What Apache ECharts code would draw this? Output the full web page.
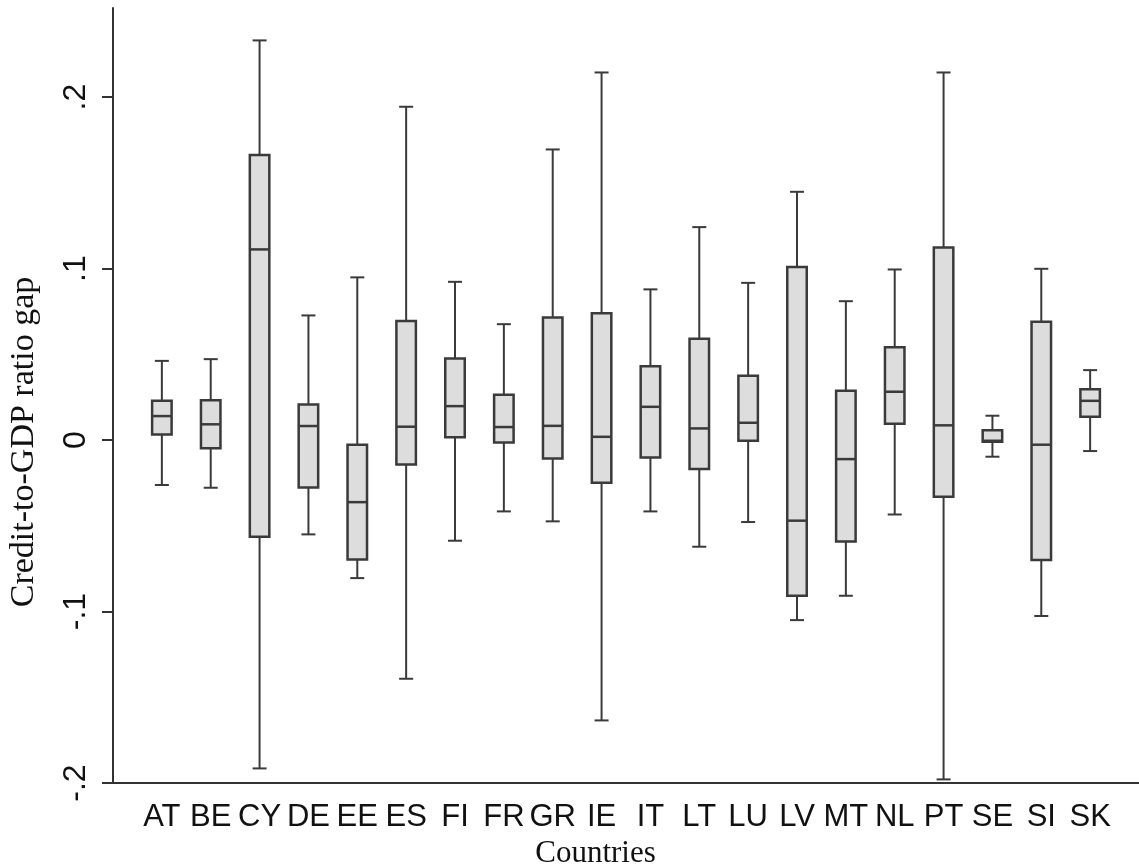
<!DOCTYPE html>
<html>
<head>
<meta charset="utf-8">
<script src="https://cdn.jsdelivr.net/npm/echarts@6/dist/echarts.min.js"></script>
<style>
html,body{margin:0;padding:0;background:#fff;}
#chart{width:1139px;height:865px;}
</style>
</head>
<body>
<div id="chart"></div>
<script>
// ---- data ----
const countries = ['AT','BE','CY','DE','EE','ES','FI','FR','GR','IE','IT','LT','LU','LV','MT','NL','PT','SE','SI','SK'];
const whiskerLow  = [-0.0262,-0.0278,-0.1915,-0.0550,-0.0805,-0.1392,-0.0587,-0.0416,-0.0474,-0.1635,-0.0416,-0.0622,-0.0478,-0.1050,-0.0908,-0.0434,-0.1979,-0.0097,-0.1026,-0.0064];
const quart1      = [ 0.0033,-0.0048,-0.0564,-0.0276,-0.0696,-0.0142, 0.0016,-0.0014,-0.0107,-0.0249,-0.0101,-0.0169,-0.0004,-0.0908,-0.0591, 0.0095,-0.0330,-0.0010,-0.0700, 0.0136];
const medians     = [ 0.0140, 0.0092, 0.1112, 0.0082,-0.0362, 0.0078, 0.0198, 0.0076, 0.0083, 0.0019, 0.0194, 0.0068, 0.0101,-0.0470,-0.0111, 0.0282, 0.0086,-0.0004,-0.0027, 0.0229];
const quart3      = [ 0.0229, 0.0233, 0.1662, 0.0208,-0.0027, 0.0694, 0.0476, 0.0264, 0.0715, 0.0739, 0.0431, 0.0591, 0.0375, 0.1009, 0.0288, 0.0542, 0.1123, 0.0058, 0.0690, 0.0296];
const whiskerHigh = [ 0.0462, 0.0472, 0.2331, 0.0727, 0.0949, 0.1944, 0.0923, 0.0676, 0.1695, 0.2144, 0.0879, 0.1242, 0.0917, 0.1448, 0.0810, 0.0995, 0.2144, 0.0142, 0.0999, 0.0408];
const yTickValues = [-0.2, -0.1, 0, 0.1, 0.2];
const yTickLabels = ['-.2', '-.1', '0', '.1', '.2'];
const xTitle = 'Countries';
const yTitle = 'Credit-to-GDP ratio gap';

// axis categories padded with an empty slot at each end (outer gap as in the reference)
const axisCats = [''].concat(countries, ['']);
const seriesData = countries.map((c, i) => [i + 1, whiskerLow[i], quart1[i], medians[i], quart3[i], whiskerHigh[i]]);

const DARK = '#3a3a3a';
const FILL = '#dddddd';

function renderBox(params, api) {
  const x = api.value(0);
  const lo = api.coord([x, api.value(1)]);
  const b1 = api.coord([x, api.value(2)]);
  const md = api.coord([x, api.value(3)]);
  const b3 = api.coord([x, api.value(4)]);
  const hi = api.coord([x, api.value(5)]);
  const cx = lo[0];
  const bw = 19.5, cw = 14;
  const ls = { stroke: DARK, lineWidth: 2, fill: null };
  return {
    type: 'group',
    children: [
      { type: 'line', shape: { x1: cx, y1: hi[1], x2: cx, y2: b3[1] }, style: ls },
      { type: 'line', shape: { x1: cx, y1: b1[1], x2: cx, y2: lo[1] }, style: ls },
      { type: 'line', shape: { x1: cx - cw / 2, y1: hi[1], x2: cx + cw / 2, y2: hi[1] }, style: ls },
      { type: 'line', shape: { x1: cx - cw / 2, y1: lo[1], x2: cx + cw / 2, y2: lo[1] }, style: ls },
      { type: 'rect', shape: { x: cx - bw / 2, y: b3[1], width: bw, height: b1[1] - b3[1] },
        style: { fill: FILL, stroke: DARK, lineWidth: 2.5 } },
      { type: 'line', shape: { x1: cx - bw / 2, y1: md[1], x2: cx + bw / 2, y2: md[1] },
        style: { stroke: DARK, lineWidth: 2.5, fill: null } }
    ]
  };
}

const chart = echarts.init(document.getElementById('chart'), null, { renderer: 'canvas' });
chart.setOption({
  animation: false,
  backgroundColor: '#ffffff',
  grid: { left: 113, right: 0, top: 8, bottom: 82, containLabel: false, outerBoundsMode: 'none' },
  xAxis: {
    type: 'category',
    data: axisCats,
    boundaryGap: false,
    axisLine: { show: true, onZero: false, lineStyle: { color: '#333', width: 2 } },
    axisTick: { show: false },
    axisLabel: { interval: 0, margin: 19, color: '#111', fontFamily: 'Liberation Sans', fontSize: 31 },
    splitLine: { show: false },
    name: xTitle,
    nameLocation: 'middle',
    nameGap: 55,
    nameTextStyle: { fontFamily: 'Liberation Serif', fontSize: 31, color: '#111', padding: [0, 61, 0, 0] }
  },
  yAxis: {
    type: 'value',
    min: -0.2,
    max: 0.252,
    axisLine: { show: true, lineStyle: { color: '#333', width: 2 } },
    axisTick: { show: true, length: 11, customValues: yTickValues, lineStyle: { color: '#333', width: 2 } },
    axisLabel: {
      customValues: yTickValues,
      rotate: 90,
      margin: 21,
      color: '#111',
      fontFamily: 'Liberation Sans',
      fontSize: 32,
      formatter: function (v) {
        const i = yTickValues.findIndex(t => Math.abs(t - v) < 1e-9);
        return i >= 0 ? yTickLabels[i] : '';
      }
    },
    splitLine: { show: false },
    name: yTitle,
    nameLocation: 'middle',
    nameGap: 72,
    nameTextStyle: { fontFamily: 'Liberation Serif', fontSize: 34, color: '#111', padding: [0, 93, 0, 0] }
  },
  series: [{
    type: 'custom',
    renderItem: renderBox,
    encode: { x: 0, y: [1, 2, 3, 4, 5] },
    data: seriesData,
    clip: false
  }]
});
</script>
</body>
</html>
